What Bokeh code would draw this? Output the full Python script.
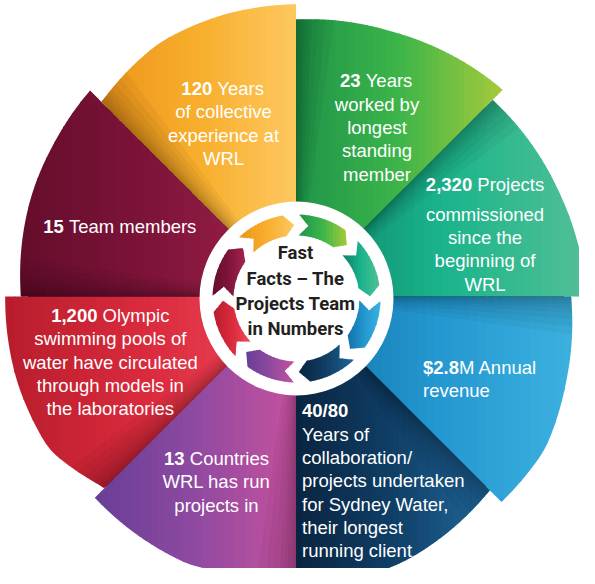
import numpy as np
from bokeh.plotting import figure
from bokeh.models import Range1d, ColumnDataSource
from bokeh.embed import file_html
from bokeh.resources import INLINE
from bokeh.core.properties import value

# ---------------- data ----------------
slice_names = ["Longest standing member", "Projects commissioned", "Annual revenue",
               "Sydney Water collaboration", "Countries", "Olympic pools circulated",
               "Team members", "Collective experience"]
slice_share = [1, 1, 1, 1, 1, 1, 1, 1]          # eight equal slices
stat_figures = ["23", "2,320", "$2.8", "40/80", "13", "1,200", "15", "120"]
stat_first_rest = [" Years", " Projects", "M Annual", "", " Countries", " Olympic",
                   " Team members", " Years"]
stat_more_lines = [
    ["worked by", "longest", "standing", "member"],
    ["commissioned", "since the", "beginning of", "WRL"],
    ["revenue"],
    ["Years of", "collaboration/", "projects undertaken", "for Sydney Water,",
     "their longest", "running client"],
    ["WRL has run", "projects in"],
    ["swimming pools of", "water have circulated", "through models in", "the laboratories"],
    [],
    ["of collective", "experience at", "WRL"],
]
title_lines = ["Fast", "Facts \u2013 The", "Projects Team", "in Numbers"]

# ---------------- styles ----------------
slice_colors = [
    ["#1F9449", "#3DB54A", "#A6CA3A"],   # green
    ["#0D7F65", "#19B48B", "#52BF95"],   # teal
    ["#1570A8", "#2397CF", "#3CB1E0"],   # blue
    ["#0A2440", "#0F3F66", "#21679A"],   # navy
    ["#683E98", "#8F4AA0", "#C7519F"],   # purple
    ["#B81D2C", "#DB2B3E", "#EF4A5C"],   # red
    ["#650D2C", "#7F143A", "#A3244F"],   # maroon
    ["#EC951C", "#F8AE2C", "#FDC860"],   # orange
]

# ---------------- layout ----------------
W, H = 579, 568
PX0, PY0 = 8, 8
CX, CY = 303.5, 304.0
# outer-edge shape of each blade: (fraction across the blade, radius in px)
EDGE_T = [[0, 0.44, 1], [0, 0.52, 1], [0, 0.39, 0.70, 1], [0, 0.5, 1],
          [0, 0.47, 1], [0, 0.29, 0.62, 1], [0, 0.48, 0.72, 1], [0, 0.37, 0.69, 1]]
EDGE_R = [[277, 281.7, 292.4], [278, 283, 290.5], [275, 283.2, 292, 290.5], [274, 286, 292],
          [272.7, 288.5, 284.5], [270.5, 290.2, 291.5, 290.8], [275, 283.3, 286.4, 291.3],
          [275, 288, 291, 292.3]]
RING_CX, RING_CY, RING_R = 304.0, 306.0, 97.0
ARROW_RI, ARROW_RO = 63.0, 84.0
ARROW_GAP, ARROW_TIP = 1.8, 7.5

label_anchor_x = [384.5, 492.5, 430.5, 309.5, 224.0, 117.8, 128.3, 231.0]
label_first_base = [88.3, 191.7, 375.0, 418.3, 466.0, 323.3, 234.3, 96.0]
label_align = ["center", "center", "left", "left", "center", "center", "center", "center"]
label_first_gap = [23.35, 30.0, 23.35, 23.35, 23.35, 23.0, 0.0, 23.35]
LINE = 23.35
FONT_PX = 18.5
TITLE_X, TITLE_Y0, TITLE_STEP, TITLE_PX = 303.0, 260.7, 25.3, 18.5


def polar(theta, r, cx, cy):
    th = np.radians(theta)
    return cx + r * np.sin(th), cy - r * np.cos(th)


def hex2rgb(h):
    h = h.lstrip("#")
    return np.array([int(h[i:i + 2], 16) for i in (0, 2, 4)], dtype=float)


def color_at(stops, f):
    f = min(max(f, 0.0), 1.0)
    seg = f * (len(stops) - 1)
    i = min(int(seg), len(stops) - 2)
    u = seg - i
    c = hex2rgb(stops[i]) * (1 - u) + hex2rgb(stops[i + 1]) * u
    return "#%02x%02x%02x" % tuple(int(round(v)) for v in c)


def clip(poly, x0, keep_greater):
    out = []
    n = len(poly)
    for i in range(n):
        P, Q = poly[i], poly[(i + 1) % n]
        inP = P[0] >= x0 if keep_greater else P[0] <= x0
        inQ = Q[0] >= x0 if keep_greater else Q[0] <= x0
        if inP:
            out.append(P)
        if inP != inQ:
            t = (x0 - P[0]) / (Q[0] - P[0])
            out.append((x0, P[1] + t * (Q[1] - P[1])))
    return out


def gradient_strips(poly, stops, n=32):
    xs_ = [q[0] for q in poly]
    xmin, xmax = min(xs_), max(xs_)
    w = (xmax - xmin) / n
    out = []
    for j in range(n):
        a = xmin + j * w
        b = a + w + (0.9 if j < n - 1 else 0.0)
        piece = clip(clip(poly, a, True), b, False)
        if len(piece) >= 3:
            out.append((piece, color_at(stops, (j + 0.5) / n)))
    return out


NS = 241
T_S = np.linspace(0, 1, NS)
edge_radius = []
for k in range(len(EDGE_T)):
    r = np.interp(T_S, EDGE_T[k], EDGE_R[k])
    pad = 12
    rp = np.concatenate([np.full(pad, r[0]), r, np.full(pad, r[-1])])
    rs = np.convolve(rp, np.ones(2 * pad + 1) / (2 * pad + 1), mode="valid")
    rs[0], rs[-1] = r[0], r[-1]
    edge_radius.append(rs)


def outer_profile(k, a0, a1, upto=None):
    pts = []
    for t, r in zip(T_S, edge_radius[k]):
        th = a0 + t * (a1 - a0)
        if upto is not None and th > upto:
            break
        pts.append(polar(th, r, CX, CY))
    return pts


edges = np.concatenate([[0], np.cumsum(slice_share)]) / sum(slice_share) * 360.0

wedge_xs, wedge_ys, wedge_cols = [], [], []
shadow_xs, shadow_ys = [], []
arrow_xs, arrow_ys, arrow_cols = [], [], []

for k in range(len(slice_share)):
    a0, a1 = edges[k], edges[k + 1]
    poly = [(CX, CY)] + outer_profile(k, a0, a1)
    for piece, col in gradient_strips(poly, slice_colors[k]):
        wedge_xs.append([q[0] for q in piece])
        wedge_ys.append([q[1] for q in piece])
        wedge_cols.append(col)
    # soft shadow along the leading edge (cast by the previous slice)
    for wdeg in (0.5, 1.0, 1.7, 2.5, 3.5, 4.8, 6.3, 8.0):
        sp = [(CX, CY)] + outer_profile(k, a0, a1, upto=a0 + wdeg)
        shadow_xs.append([q[0] for q in sp])
        shadow_ys.append([q[1] for q in sp])
    # chevron arrow in the ring
    ta = a0 + ARROW_GAP
    hb = a1 - ARROW_GAP - ARROW_TIP
    rm = 0.5 * (ARROW_RI + ARROW_RO)
    outer = [polar(t, ARROW_RO, RING_CX, RING_CY) for t in np.linspace(ta, hb, 40)]
    inner = [polar(t, ARROW_RI, RING_CX, RING_CY) for t in np.linspace(hb, ta, 40)]
    apoly = outer + [polar(a1 - ARROW_GAP, rm, RING_CX, RING_CY)] + inner + \
        [polar(ta + ARROW_TIP, rm, RING_CX, RING_CY)]
    for piece, col in gradient_strips(apoly, slice_colors[k], n=14):
        arrow_xs.append([q[0] for q in piece])
        arrow_ys.append([q[1] for q in piece])
        arrow_cols.append(col)

# ---------------- text metrics (Arial / Liberation Sans widths) ----------------
REG = dict(zip(" ,-./$0123456789", [278, 278, 333, 278, 278, 556] + [556] * 10))
REG.update(dict(zip("ABCDEFGHIJKLMNOPQRSTUVWXYZ",
                    [667, 667, 722, 722, 667, 611, 778, 722, 278, 500, 667, 556, 833,
                     722, 778, 667, 778, 722, 667, 611, 722, 667, 944, 667, 667, 611])))
REG.update(dict(zip("abcdefghijklmnopqrstuvwxyz",
                    [556, 556, 500, 556, 556, 278, 556, 556, 222, 222, 500, 222, 833,
                     556, 556, 556, 556, 333, 500, 278, 556, 500, 722, 500, 500, 500])))
BOLD = dict(zip(" ,./$0123456789", [278, 278, 278, 278, 556] + [556] * 10))


def tw(s, table):
    return sum(table.get(ch, 556) for ch in s) / 1000.0 * FONT_PX


reg_left = dict(x=[], y=[], text=[])
reg_center = dict(x=[], y=[], text=[])
bold_left = dict(x=[], y=[], text=[])

for k in range(len(slice_share)):
    ax, y = label_anchor_x[k], label_first_base[k]
    b, rest = stat_figures[k], stat_first_rest[k]
    wb, wr = tw(b, BOLD), tw(rest, REG)
    left = ax - (wb + wr) / 2 if label_align[k] == "center" else ax
    bold_left["x"].append(left); bold_left["y"].append(y); bold_left["text"].append(b)
    if rest:
        lead = tw(rest[:len(rest) - len(rest.lstrip())], REG)
        reg_left["x"].append(left + wb + lead); reg_left["y"].append(y)
        reg_left["text"].append(rest.lstrip())
    y += label_first_gap[k]
    for line in stat_more_lines[k]:
        tgt = reg_center if label_align[k] == "center" else reg_left
        tgt["x"].append(ax); tgt["y"].append(y); tgt["text"].append(line)
        y += LINE

# ---------------- figure ----------------
p = figure(width=W, height=H, x_range=Range1d(PX0, PX0 + W), y_range=Range1d(PY0 + H, PY0),
           output_backend="svg", toolbar_location=None, min_border=0)
p.axis.visible = False
p.grid.visible = False
p.outline_line_color = None
p.background_fill_color = "white"
p.border_fill_color = "white"

p.circle(x=[CX], y=[CY], radius=268, fill_color="#2b2b2b", line_color=None)
p.patches(xs=wedge_xs, ys=wedge_ys, fill_color=wedge_cols, line_color=None)
p.patches(xs=shadow_xs, ys=shadow_ys, fill_color="black", fill_alpha=0.04, line_color=None)
p.circle(x=[RING_CX], y=[RING_CY], radius=RING_R, fill_color="white", line_color=None)
p.patches(xs=arrow_xs, ys=arrow_ys, fill_color=arrow_cols, line_color=None)

common = dict(text_color="white", text_font=value("Liberation Sans"),
              text_font_size=value("%.1fpx" % FONT_PX), text_baseline="alphabetic")
p.text(x="x", y="y", text="text", source=ColumnDataSource(reg_left), text_align="left", **common)
p.text(x="x", y="y", text="text", source=ColumnDataSource(reg_center), text_align="center", **common)
p.text(x="x", y="y", text="text", source=ColumnDataSource(bold_left), text_align="left",
       text_font_style="bold", **common)

p.text(x=[TITLE_X] * len(title_lines),
       y=[TITLE_Y0 + i * TITLE_STEP for i in range(len(title_lines))],
       text=title_lines, text_align="center", text_baseline="alphabetic",
       text_color="#231F20", text_font=value("Roboto"),
       text_font_style="bold", text_font_size=value("%.1fpx" % TITLE_PX))

open("out.html", "w").write(file_html(p, INLINE))
